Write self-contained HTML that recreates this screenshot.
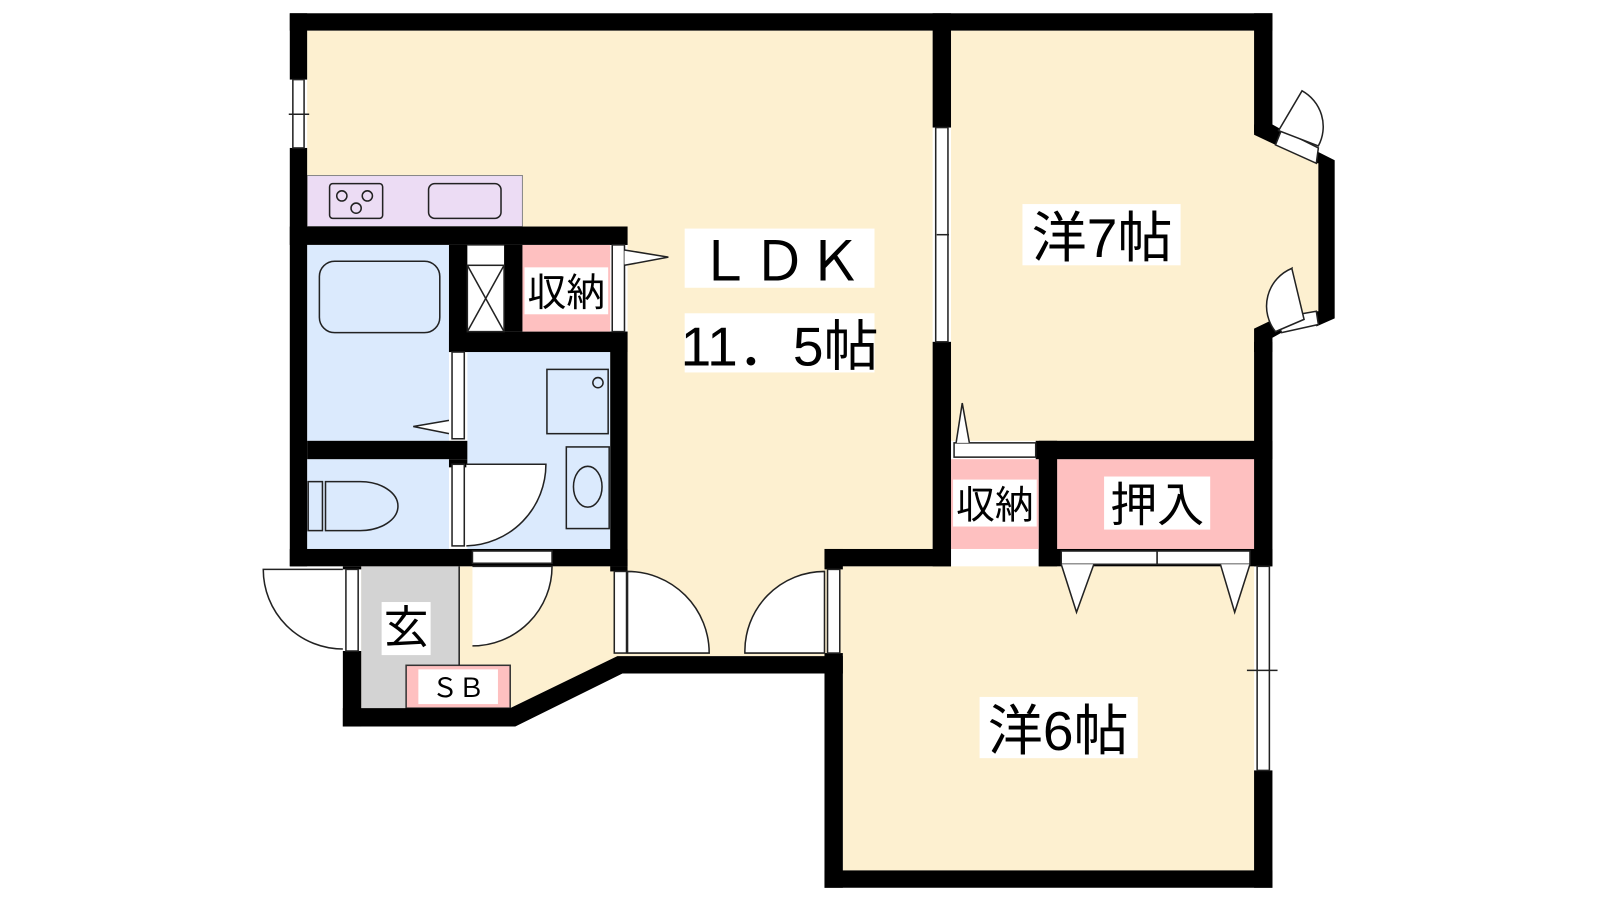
<!DOCTYPE html>
<html><head><meta charset="utf-8"><style>
html,body{margin:0;padding:0;background:#fff;}
svg{display:block}
text{font-family:"Liberation Sans","Noto Sans CJK JP",sans-serif;fill:#000}
</style></head><body>
<svg width="1600" height="900" viewBox="0 0 1600 900" xmlns="http://www.w3.org/2000/svg">
<g transform="scale(1.0204)">
<!-- floors -->
<g stroke="none">
<polygon fill="#fdf0d0" points="301,30 914,30 914,538 826,538 826,643 605,643 500,694 354,694 354,555 615,555 615,222 301,222"/>
<polygon fill="#fdf0d0" points="932,30 1229,30 1229,130 1292,160 1292,305 1229,335 1229,432 932,432"/>
<rect fill="#fdf0d0" x="826" y="555" width="403" height="298"/>
<rect fill="#d3d3d3" x="354" y="555" width="96" height="139"/>
<rect fill="#ecdcf4" x="301" y="172" width="211" height="50" stroke="#888" stroke-width="1"/>
<rect fill="#dbeafd" x="301" y="240" width="139" height="192"/>
<rect fill="#dbeafd" x="301" y="450" width="139" height="88"/>
<rect fill="#dbeafd" x="458" y="345" width="140" height="193"/>
<rect fill="#fec0c0" x="512" y="240" width="86" height="85"/>
<rect fill="#fec0c0" x="932" y="450" width="86" height="88"/>
<rect fill="#fec0c0" x="1036" y="450" width="193" height="88"/>
<rect fill="#fec0c0" x="398" y="652" width="102" height="42" stroke="#333" stroke-width="1.5"/>
</g>
<!-- walls -->
<g fill="#000">
<rect x="284" y="13" width="963" height="17"/>
<rect x="284" y="13" width="17" height="65"/>
<rect x="284" y="145" width="17" height="410"/>
<rect x="284" y="538" width="331" height="17"/>
<rect x="284" y="222" width="331" height="18"/>
<rect x="598" y="222" width="17" height="18"/>
<rect x="598" y="325" width="17" height="230"/>
<rect x="440" y="240" width="18" height="105"/>
<rect x="494" y="240" width="18" height="85"/>
<rect x="440" y="325" width="175" height="20"/>
<rect x="301" y="432" width="157" height="18"/>
<rect x="440" y="450" width="18" height="8"/>
<rect x="336" y="555" width="18" height="3"/>
<rect x="336" y="638" width="18" height="74"/>
<polygon points="336,694 500,694 605,643 826,643 826,660 610,660 505,712 336,712"/>
<rect x="598" y="555" width="17" height="5"/>
<rect x="914" y="13" width="18" height="112"/>
<rect x="914" y="335" width="18" height="220"/>
<rect x="808" y="538" width="124" height="17"/>
<rect x="808" y="538" width="18" height="20"/>
<rect x="808" y="640" width="18" height="230"/>
<rect x="808" y="853" width="439" height="17"/>
<rect x="1229" y="755" width="18" height="115"/>
<rect x="1229" y="13" width="18" height="117"/>
<rect x="1229" y="335" width="18" height="220"/>
<rect x="1015" y="432" width="232" height="18"/>
<rect x="1018" y="432" width="18" height="123"/>
<rect x="1018" y="538" width="229" height="17"/>
<polygon points="1229,122 1247,122 1256,127 1250,142 1229,132"/>
<polygon points="1290,148 1308,157 1308,312 1290,320 1290,305 1292,305 1292,160 1290,160"/>
<polygon points="1229,322 1250,312 1256,326 1247,331 1247,345 1229,345"/>
</g>
<!-- windows / door panels -->
<g fill="#fff" stroke="#222" stroke-width="1.5">
<rect x="287" y="78" width="11" height="67"/>
<rect x="917" y="125" width="12" height="210"/>
<rect x="1232" y="555" width="12" height="200"/>
<rect x="600" y="240" width="12" height="85"/>
<rect x="443" y="345" width="12" height="85"/>
<rect x="443" y="455" width="12" height="80"/>
<rect x="463" y="540" width="78" height="12"/>
<rect x="339" y="558" width="12" height="80"/>
<rect x="602" y="560" width="12" height="80"/>
<rect x="811" y="558" width="12" height="82"/>
<rect x="935" y="434" width="80" height="14"/>
<rect x="1040" y="540" width="94" height="13"/>
<rect x="1134" y="540" width="91" height="13"/>
<rect x="458" y="260" width="36" height="65"/>
<polygon points="1256,127 1292,145 1290,160 1250,142"/>
<polygon points="1250,312 1290,305 1292,318 1256,326"/>
</g>
<g fill="none" stroke="#222" stroke-width="1.5">
<line x1="283" y1="112" x2="303" y2="112"/><line x1="918" y1="230" x2="930" y2="230"/><line x1="1222" y1="657" x2="1252" y2="657"/>
<line x1="458" y1="260" x2="494" y2="325"/><line x1="494" y1="260" x2="458" y2="325"/>
<line x1="458" y1="240" x2="494" y2="240"/>
<path d="M457,455 L535,455 A80,80 0 0 1 457,535" fill="#fff"/>
<path d="M463,555 L541,555 A78,78 0 0 1 463,633" fill="#fff"/>
<path d="M336,558 L258,558 A78,78 0 0 0 336,636" fill="#fff"/>
<path d="M615,560 A80,80 0 0 1 695,640 L615,640 Z" fill="#fff"/>
<path d="M808,560 A78,78 0 0 0 730,640 L808,640 Z" fill="#fff"/>
<path d="M612,245 L655,252 L612,260" fill="#fff"/>
<path d="M440,412 L405,418 L440,425" fill="#fff"/>
<path d="M937,434 L943,395 L950,434" fill="#fff"/>
<path d="M1040,553 L1055,600 L1072,553" fill="#fff"/>
<path d="M1196,553 L1210,600 L1225,553" fill="#fff"/>
<path d="M1253,128 L1276,89 A40,40 0 0 1 1292,143 Z" fill="#fff"/>
<path d="M1250,325 L1266,263 A40,40 0 0 0 1250,312" fill="#fff"/>
<path d="M1250,325 L1278,313 L1266,263 A40,40 0 0 0 1250,325 Z" fill="#fff"/>
<rect x="323" y="180" width="52" height="34" rx="3"/>
<circle cx="335" cy="192" r="5"/><circle cx="360" cy="192" r="5"/><circle cx="349" cy="204" r="5"/>
<rect x="420" y="180" width="71" height="34" rx="6"/>
<rect x="313" y="256" width="118" height="70" rx="15"/>
<rect x="536" y="362" width="60" height="63"/>
<circle cx="586" cy="375" r="5"/>
<rect x="555" y="438" width="42" height="80"/>
<ellipse cx="576" cy="477" rx="14" ry="20"/>
<rect x="302" y="472" width="14" height="48"/>
<path d="M319,472 L353,472 A37,24 0 0 1 353,520 L319,520 Z"/>
<line x1="450" y1="555" x2="450" y2="652"/>
</g>
<!-- labels -->
<g>
<rect x="671" y="224" width="186" height="58" fill="#fff"/>
<text x="764" y="275" font-size="54" text-anchor="middle">ＬＤＫ</text>
<rect x="671" y="307" width="186" height="58" fill="#fff"/>
<text x="764" y="358" font-size="54" text-anchor="middle">11．5帖</text>
<rect x="1002" y="200" width="155" height="60" fill="#fff"/>
<text x="1080" y="252" font-size="54" text-anchor="middle">洋7帖</text>
<rect x="960" y="683" width="155" height="60" fill="#fff"/>
<text x="1037" y="735" font-size="54" text-anchor="middle">洋6帖</text>
<rect x="1082" y="467" width="104" height="52" fill="#fff"/>
<text x="1134" y="511" font-size="46" text-anchor="middle">押入</text>
<rect x="934" y="470" width="82" height="46" fill="#fff"/>
<text x="975" y="508" font-size="38" text-anchor="middle">収納</text>
<rect x="514" y="262" width="82" height="46" fill="#fff"/>
<text x="555" y="300" font-size="38" text-anchor="middle">収納</text>
<rect x="374" y="590" width="48" height="52" fill="#fff"/>
<text x="398" y="630" font-size="44" text-anchor="middle">玄</text>
<rect x="410" y="656" width="78" height="34" fill="#fff"/>
<text x="449" y="683" font-size="26" text-anchor="middle">ＳＢ</text>
</g>
</g>
</svg>
</body></html>
